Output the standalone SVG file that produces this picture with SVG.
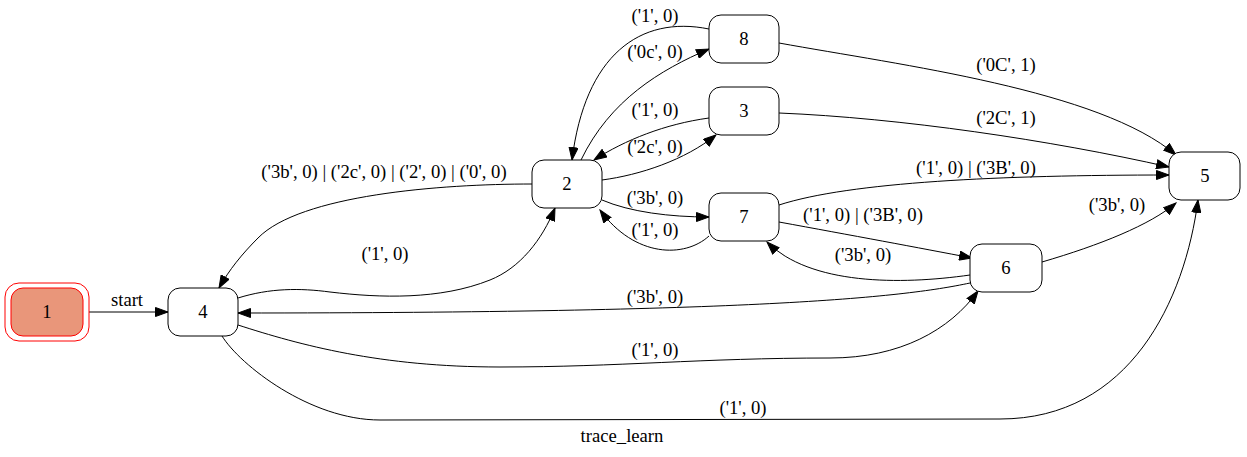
<svg xmlns="http://www.w3.org/2000/svg" width="1247" height="457" viewBox="0 0 1247 457">
<style>
.n rect{fill:#fff;stroke:#000;stroke-width:1}
text{font-family:'Liberation Serif','DejaVu Serif',serif;font-size:18.67px;fill:#000;text-anchor:middle}
.e path{fill:none;stroke:#000;stroke-width:1;marker-end:url(#ah)}
</style>
<defs>
<marker id="ah" markerUnits="userSpaceOnUse" markerWidth="14" markerHeight="10" refX="13" refY="5" orient="auto">
<path d="M0.5,0.5 L13,5 L0.5,9.5 z" fill="#000" stroke="#000"/>
</marker>
</defs>
<rect width="1247" height="457" fill="#fff"/>
<g class="e" id="edges">
<path d="M89,312 L168,312"/>
<path d="M532,184 C440,184 300,195 258,238 C242,254 229,270 219,288"/>
<path d="M238,298 C270,288 300,288 330,292 C380,298 440,300 490,280 C520,268 542,240 555,208"/>
<path d="M970,283 C900,298 750,313 238,313"/>
<path d="M238,325 C300,345 380,367 500,367 C620,367 700,358 830,358 C900,358 950,330 978,291"/>
<path d="M222,336 C240,365 310,420 380,420 L1000,419 C1130,419 1185,300 1198,200"/>
<path d="M581,160 C610,100 660,70 709,49"/>
<path d="M709,29 C640,15 585,55 572,160"/>
<path d="M709,118 C665,124 625,140 594,160"/>
<path d="M602,180 C640,175 685,160 716,135"/>
<path d="M602,200 C630,212 670,217 709,217"/>
<path d="M709,236 C685,258 635,258 600,210"/>
<path d="M779,205 C850,182 1000,175 1169,175"/>
<path d="M779,222 C850,235 920,248 972,258"/>
<path d="M970,275 C900,285 810,285 767,242"/>
<path d="M1042,262 C1100,245 1150,225 1176,203"/>
<path d="M779,43 C900,65 1100,90 1176,155"/>
<path d="M779,113 C900,118 1050,140 1169,167"/>
</g>
<g id="labels">
<text x="127" y="306">start</text>
<text x="384" y="178">('3b', 0) | ('2c', 0) | ('2', 0) | ('0', 0)</text>
<text x="385" y="260">('1', 0)</text>
<text x="655" y="303">('3b', 0)</text>
<text x="655" y="356">('1', 0)</text>
<text x="743" y="414">('1', 0)</text>
<text x="622" y="442">trace_learn</text>
<text x="655" y="22">('1', 0)</text>
<text x="655" y="58">('0c', 0)</text>
<text x="655" y="116">('1', 0)</text>
<text x="655" y="153">('2c', 0)</text>
<text x="655" y="204">('3b', 0)</text>
<text x="655" y="236">('1', 0)</text>
<text x="976" y="174">('1', 0) | ('3B', 0)</text>
<text x="863" y="221">('1', 0) | ('3B', 0)</text>
<text x="863" y="261">('3b', 0)</text>
<text x="1117" y="211">('3b', 0)</text>
<text x="1006" y="71">('0C', 1)</text>
<text x="1006" y="124">('2C', 1)</text>
</g>
<g id="node1">
<rect x="5" y="283" width="84" height="58" rx="14" fill="none" stroke="#f00"/>
<rect x="11" y="288" width="72" height="48" rx="12" fill="#e9967a" stroke="#f00"/>
<text x="47" y="318">1</text>
</g>
<g id="node4" class="n"><rect x="168" y="288" width="70" height="48" rx="12"/><text x="203" y="318">4</text></g>
<g id="node2" class="n"><rect x="532" y="160" width="70" height="48" rx="12"/><text x="567" y="190">2</text></g>
<g id="node8" class="n"><rect x="709" y="15" width="70" height="48" rx="12"/><text x="744" y="45">8</text></g>
<g id="node3" class="n"><rect x="709" y="87" width="70" height="48" rx="12"/><text x="744" y="117">3</text></g>
<g id="node7" class="n"><rect x="709" y="193" width="70" height="48" rx="12"/><text x="744" y="223">7</text></g>
<g id="node6" class="n"><rect x="970" y="244" width="72" height="48" rx="12"/><text x="1006" y="274">6</text></g>
<g id="node5" class="n"><rect x="1169" y="152" width="71" height="48" rx="12"/><text x="1205" y="182">5</text></g>
</svg>
